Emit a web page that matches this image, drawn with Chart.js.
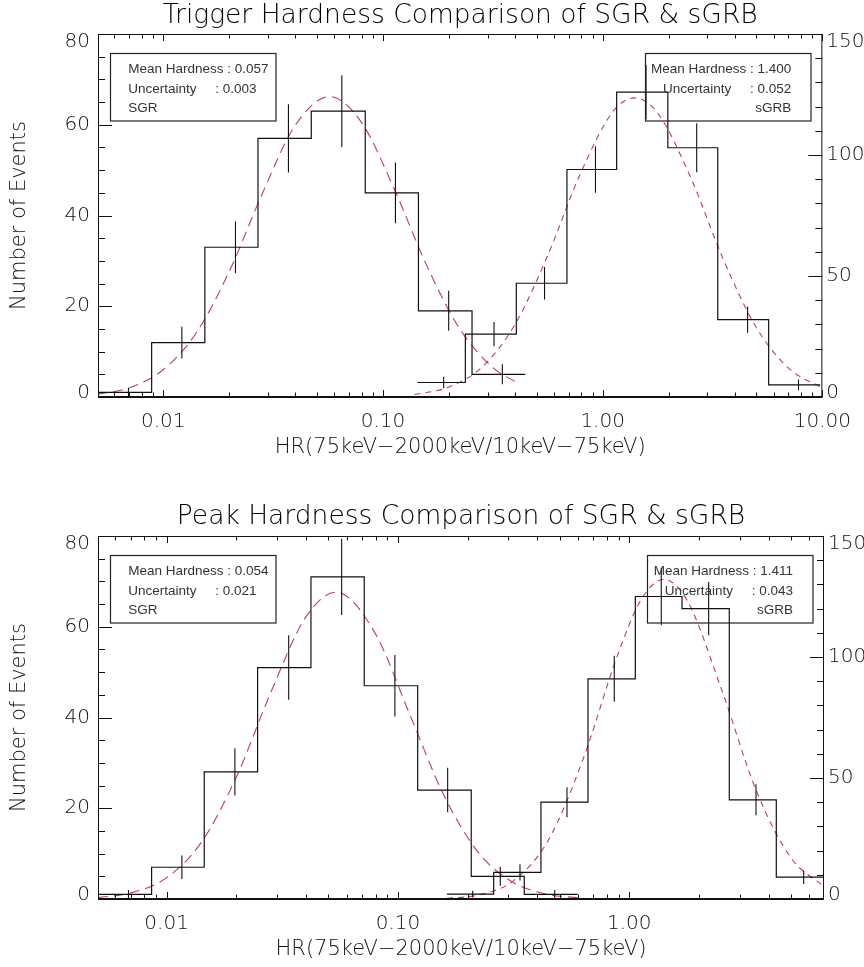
<!DOCTYPE html>
<html>
<head>
<meta charset="utf-8">
<title>Hardness Comparison of SGR &amp; sGRB</title>
<script src="https://cdn.jsdelivr.net/npm/chart.js@4.4.1/dist/chart.umd.min.js"></script>
<style>
  html, body { margin: 0; padding: 0; background: #fff; }
  canvas { display: block; }
</style>
</head>
<body>
<canvas id="trigger-chart" width="864" height="483"></canvas>
<canvas id="peak-chart" width="864" height="484"></canvas>
<script>
// ---- data ----

// axis ticks
const xMajorTicks = [0.01, 0.1, 1, 10];
const leftTicks = [0, 20, 40, 60, 80];
const rightTicks = [0, 50, 100, 150];

// Trigger hardness - SGR (left axis)
const trigSgrEdges = [0.00507, 0.00886, 0.01547, 0.0270, 0.0472, 0.0831, 0.1451, 0.2544, 0.4445];
const trigSgrCounts = [1, 12, 33, 57, 63, 45, 19, 5];
const trigSgrErrX = [0.00695, 0.01216, 0.02133, 0.03715, 0.0650, 0.1140, 0.1992, 0.3495];
const trigSgrErr = [1, 3.5, 5.7, 7.5, 7.9, 6.7, 4.4, 2.2];
const trigSgrFitX = [0.00501, 0.00708, 0.0100, 0.01413, 0.01995, 0.02818, 0.03981, 0.05702, 0.07943, 0.1122, 0.1585, 0.2239, 0.3162, 0.4130];
const trigSgrFitY = [0.6, 2.1, 6.0, 14.1, 27.6, 44.7, 59.8, 66.2, 60.7, 46.0, 28.9, 15.0, 6.5, 3.0];

// Trigger hardness - sGRB (right axis)
const trigGrbEdges = [0.1436, 0.2372, 0.4046, 0.6878, 1.158, 1.980, 3.341, 5.696, 9.78];
const trigGrbCounts = [6, 26, 47, 94, 126, 103, 32, 5];
const trigGrbErrX = [0.189, 0.3204, 0.5439, 0.9275, 1.576, 2.679, 4.567, 7.787];
const trigGrbErr = [2.4, 5.0, 6.7, 9.6, 11.2, 10.1, 5.4, 2.2];
const trigGrbFitX = [0.1393, 0.1995, 0.2818, 0.3981, 0.5623, 0.7943, 1.122, 1.400, 1.778, 2.512, 3.548, 5.012, 7.079, 10.0];
const trigGrbFitY = [1.0, 4.1, 12.3, 29.8, 58.5, 92.6, 118.3, 123.6, 117.4, 90.8, 56.7, 28.6, 11.6, 3.8];

// Peak hardness - SGR (left axis)
const peakSgrEdges = [0.00506, 0.00861, 0.01454, 0.02473, 0.04206, 0.07149, 0.1217, 0.2074, 0.3516, 0.5981];
const peakSgrCounts = [1, 7, 28, 51, 71, 47, 24, 5, 1];
const peakSgrErrX = [0.00684, 0.01164, 0.01973, 0.03370, 0.05710, 0.0970, 0.1640, 0.2769, 0.4759];
const peakSgrErr = [1, 2.6, 5.2, 7.1, 8.4, 6.8, 4.9, 2.1, 1];
const peakSgrFitX = [0.00505, 0.00708, 0.0100, 0.01413, 0.01995, 0.02818, 0.03981, 0.05395, 0.07943, 0.1122, 0.1585, 0.2239, 0.3162, 0.4467, 0.5984];
const peakSgrFitY = [0.3, 1.4, 4.7, 12.5, 26.7, 45.5, 62.0, 67.6, 58.7, 40.8, 22.7, 10.1, 3.6, 1.0, 0.3];

// Peak hardness - sGRB (right axis)
const peakGrbEdges = [0.1628, 0.2593, 0.4151, 0.6629, 1.062, 1.690, 2.706, 4.321, 6.90];
const peakGrbCounts = [2, 11, 40, 91, 125, 120, 41, 9];
const peakGrbErrX = [0.2104, 0.3369, 0.5378, 0.8613, 1.375, 2.204, 3.530, 5.675];
const peakGrbErr = [1.4, 3.4, 6.2, 9.5, 11.9, 11, 6.4, 2.8];
const peakGrbFitX = [0.1629, 0.2239, 0.3162, 0.4467, 0.6310, 0.8913, 1.122, 1.411, 1.778, 2.512, 3.548, 5.012, 6.950];
const peakGrbFitY = [0.3, 1.7, 7.6, 24.3, 57.7, 100.9, 123.5, 132.1, 123.4, 86.3, 44.5, 16.9, 5.1];

// text
const trigTitle = 'Trigger Hardness Comparison of SGR & sGRB';
const peakTitle = 'Peak Hardness Comparison of SGR & sGRB';
const xTitle = 'HR(75keV\u22122000keV/10keV\u221275keV)';
const yTitle = 'Number of Events';
const trigSgrInfo = ['Mean Hardness : 0.057', 'Uncertainty     : 0.003', 'SGR'];
const trigGrbInfo = ['Mean Hardness : 1.400', 'Uncertainty     : 0.052', 'sGRB'];
const peakSgrInfo = ['Mean Hardness : 0.054', 'Uncertainty     : 0.021', 'SGR'];
const peakGrbInfo = ['Mean Hardness : 1.411', 'Uncertainty     : 0.043', 'sGRB'];

// ---- styling ----
const INK = '#111';
const FIT_RED = '#c23a5e';
const HERSHEY = '"DejaVu Sans", sans-serif';
const LEFT_MAJOR = 20, LEFT_MINOR = 5;
const RIGHT_MAJOR = 50, RIGHT_MINOR = 10;

// histogram outline as a list of points (IDL psym=10 look, no end drops)
function stepPoints(edges, counts) {
    const pts = [];
    counts.forEach((c, i) => {
        pts.push({ x: edges[i], y: c }, { x: edges[i + 1], y: c });
    });
    return pts;
}

// vertical error bars, separated by gaps
function errorPoints(xs, vals, errs) {
    const pts = [];
    xs.forEach((x, i) => {
        pts.push({ x, y: vals[i] - errs[i] }, { x, y: vals[i] + errs[i] }, { x, y: null });
    });
    return pts;
}

function zip(xs, ys) {
    return xs.map((x, i) => ({ x, y: ys[i] }));
}

// frame, inward ticks, y labels, info boxes and title
const idlFrame = {
    id: 'idlFrame',
    afterDraw(chart, args, opts) {
        const { ctx, chartArea: a } = chart;
        const { x, y, y1 } = chart.scales;
        const seg = (x0, y0, x2, y2) => {
            ctx.beginPath();
            ctx.moveTo(x0, y0);
            ctx.lineTo(x2, y2);
            ctx.stroke();
        };

        ctx.save();
        ctx.strokeStyle = INK;
        ctx.lineWidth = 1;
        seg(a.left + 0.5, a.top, a.left + 0.5, a.bottom);
        seg(a.right - 0.5, a.top, a.right - 0.5, a.bottom);
        seg(a.left, a.top + 0.5, a.right, a.top + 0.5);
        ctx.lineWidth = 2;
        seg(a.left, a.bottom, a.right, a.bottom);
        ctx.lineWidth = 1;

        // left axis ticks
        for (let v = y.min; v <= y.max; v += LEFT_MINOR) {
            const py = Math.round(y.getPixelForValue(v)) + 0.5;
            seg(a.left, py, a.left + (v % LEFT_MAJOR === 0 ? 14 : 7), py);
        }
        // right axis ticks
        for (let v = y1.min; v <= y1.max; v += RIGHT_MINOR) {
            const py = Math.round(y1.getPixelForValue(v)) + 0.5;
            seg(a.right, py, a.right - (v % RIGHT_MAJOR === 0 ? 14 : 7), py);
        }
        // log x ticks, bottom and top
        [0.001, 0.01, 0.1, 1, 10].forEach(d => {
            for (let m = 1; m <= 9; m++) {
                const v = m * d;
                if (v < x.min || v > x.max) continue;
                const px = Math.round(x.getPixelForValue(v)) + 0.5;
                const len = m === 1 ? 7 : 4.5;
                seg(px, a.bottom, px, a.bottom - len);
                seg(px, a.top, px, a.top + len);
            }
        });

        // y tick labels
        ctx.fillStyle = INK;
        ctx.font = `200 20px ${HERSHEY}`;
        ctx.textBaseline = 'middle';
        ctx.textAlign = 'right';
        leftTicks.forEach(v => {
            let py = y.getPixelForValue(v);
            if (v === y.max) py += 7.5;
            if (v === y.min) py -= 4.5;
            ctx.fillText(String(v), a.left - 8, py);
        });
        ctx.textAlign = 'left';
        rightTicks.forEach(v => {
            let py = y1.getPixelForValue(v);
            if (v === y1.max) py += 7.5;
            if (v === y1.min) py -= 4.5;
            ctx.fillText(String(v), a.right + 4, py);
        });

        // info boxes
        const bw = 165.5, bh = 67.5, bTop = a.top + 19.3;
        const boxes = [
            { left: a.left + 12, lines: opts.leftInfo, align: 'left' },
            { left: a.right - 12 - bw, lines: opts.rightInfo, align: 'right' }
        ];
        ctx.lineWidth = 1.2;
        ctx.strokeStyle = '#222';
        ctx.font = '13.5px "Liberation Sans", Arial, sans-serif';
        ctx.fillStyle = '#333';
        ctx.textBaseline = 'alphabetic';
        boxes.forEach(b => {
            ctx.strokeRect(Math.round(b.left) + 0.5, Math.round(bTop) + 0.5, bw, bh);
            ctx.textAlign = b.align;
            const tx = b.align === 'left' ? b.left + 18.3 : b.left + bw - 19;
            b.lines.forEach((t, i) => ctx.fillText(t, tx, bTop + 20 + i * 19.2));
        });

        // title
        ctx.font = `200 26.5px ${HERSHEY}`;
        ctx.fillStyle = '#000';
        ctx.textAlign = 'center';
        ctx.fillText(opts.title, (a.left + a.right) / 2, opts.titleY);
        ctx.restore();
    }
};

function buildPanel(canvasId, p) {
    const canvasEl = document.getElementById(canvasId);
    const H = canvasEl.height;
    const xAxisHeight = H - p.bottom;

    return new Chart(canvasEl.getContext('2d'), {
        type: 'line',
        data: {
            datasets: [
                { label: 'SGR', data: stepPoints(p.sgrEdges, p.sgrCounts), yAxisID: 'y', borderColor: INK, borderWidth: 1.2 },
                { label: 'SGR errors', data: errorPoints(p.sgrErrX, p.sgrCounts, p.sgrErr), yAxisID: 'y', borderColor: INK, borderWidth: 1.1 },
                { label: 'sGRB', data: stepPoints(p.grbEdges, p.grbCounts), yAxisID: 'y1', borderColor: INK, borderWidth: 1.2 },
                { label: 'sGRB errors', data: errorPoints(p.grbErrX, p.grbCounts, p.grbErr), yAxisID: 'y1', borderColor: INK, borderWidth: 1.1 },
                { label: 'SGR fit', data: zip(p.sgrFitX, p.sgrFitY), yAxisID: 'y', borderColor: FIT_RED, borderWidth: 1.1, borderDash: [10, 6], cubicInterpolationMode: 'monotone' },
                { label: 'sGRB fit', data: zip(p.grbFitX, p.grbFitY), yAxisID: 'y1', borderColor: FIT_RED, borderWidth: 1.1, borderDash: [6, 5], cubicInterpolationMode: 'monotone' }
            ]
        },
        options: {
            responsive: false,
            animation: false,
            spanGaps: false,
            layout: { padding: { top: p.top, left: 0, right: 0, bottom: 0 } },
            elements: { point: { radius: 0, hoverRadius: 0 }, line: { fill: false, tension: 0 } },
            plugins: {
                legend: { display: false },
                tooltip: { enabled: false },
                idlFrame: { title: p.title, titleY: p.titleY, leftInfo: p.sgrInfo, rightInfo: p.grbInfo }
            },
            scales: {
                x: {
                    type: 'logarithmic',
                    position: 'bottom',
                    min: p.xMin,
                    max: p.xMax,
                    grid: { display: false, drawTicks: false },
                    border: { display: false },
                    afterBuildTicks: scale => {
                        scale.ticks = xMajorTicks
                            .filter(v => v >= scale.min && v <= scale.max * 1.0001)
                            .map(v => ({ value: v }));
                    },
                    ticks: {
                        autoSkip: false,
                        maxRotation: 0,
                        padding: 13,
                        color: INK,
                        font: { family: HERSHEY, size: 20, weight: '200' },
                        callback: v => Number(v).toFixed(2)
                    },
                    title: {
                        display: true,
                        text: xTitle,
                        color: INK,
                        font: { family: HERSHEY, size: 21, weight: '200' },
                        padding: { top: 0, bottom: xAxisHeight - 63 }
                    },
                    afterFit: scale => { scale.height = xAxisHeight; }
                },
                y: {
                    position: 'left',
                    min: 0,
                    max: 80,
                    grid: { display: false, drawTicks: false },
                    border: { display: false },
                    ticks: { display: false },
                    title: {
                        display: true,
                        text: yTitle,
                        color: INK,
                        font: { family: HERSHEY, size: 21, weight: '200' },
                        padding: { top: 7, bottom: 0 }
                    },
                    afterFit: scale => { scale.width = 98; }
                },
                y1: {
                    position: 'right',
                    min: 0,
                    max: 150,
                    grid: { display: false, drawTicks: false },
                    border: { display: false },
                    ticks: { display: false },
                    afterFit: scale => { scale.width = 40; }
                }
            }
        },
        plugins: [idlFrame]
    });
}

document.addEventListener('DOMContentLoaded', () => {
    buildPanel('trigger-chart', {
        title: trigTitle, titleY: 23, top: 34, bottom: 397, xMin: 0.00505, xMax: 10,
        sgrEdges: trigSgrEdges, sgrCounts: trigSgrCounts, sgrErrX: trigSgrErrX, sgrErr: trigSgrErr,
        sgrFitX: trigSgrFitX, sgrFitY: trigSgrFitY, sgrInfo: trigSgrInfo,
        grbEdges: trigGrbEdges, grbCounts: trigGrbCounts, grbErrX: trigGrbErrX, grbErr: trigGrbErr,
        grbFitX: trigGrbFitX, grbFitY: trigGrbFitY, grbInfo: trigGrbInfo
    });
    buildPanel('peak-chart', {
        title: peakTitle, titleY: 41.3, top: 53, bottom: 416, xMin: 0.00505, xMax: 6.947,
        sgrEdges: peakSgrEdges, sgrCounts: peakSgrCounts, sgrErrX: peakSgrErrX, sgrErr: peakSgrErr,
        sgrFitX: peakSgrFitX, sgrFitY: peakSgrFitY, sgrInfo: peakSgrInfo,
        grbEdges: peakGrbEdges, grbCounts: peakGrbCounts, grbErrX: peakGrbErrX, grbErr: peakGrbErr,
        grbFitX: peakGrbFitX, grbFitY: peakGrbFitY, grbInfo: peakGrbInfo
    });
});
</script>
</body>
</html>
